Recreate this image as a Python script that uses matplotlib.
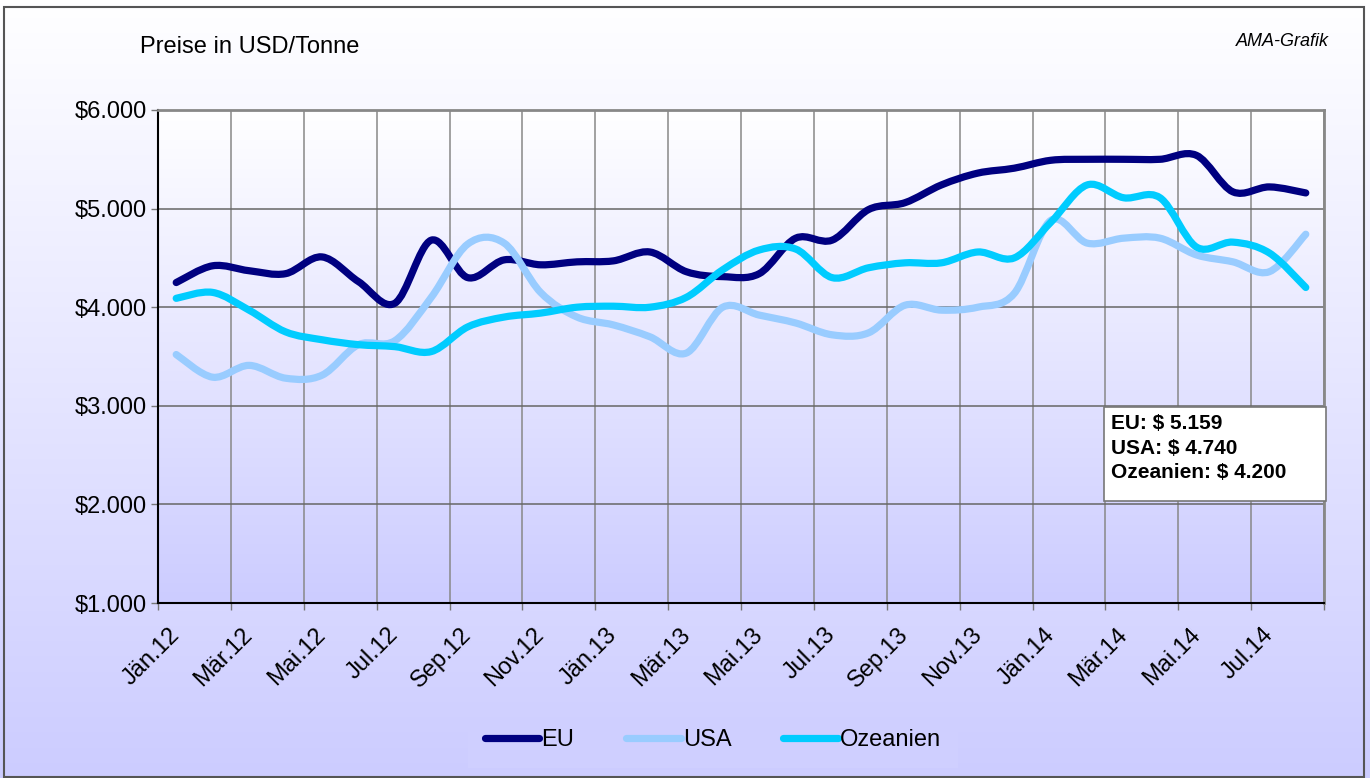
import matplotlib
matplotlib.use("Agg")
import matplotlib.pyplot as plt
import numpy as np
from matplotlib.path import Path
from matplotlib.patches import PathPatch, Rectangle
from matplotlib.lines import Line2D
from matplotlib.ticker import FuncFormatter
from matplotlib.transforms import ScaledTranslation

plt.rcParams['font.family'] = ['Liberation Sans', 'DejaVu Sans']

# monthly prices, Jän.12 .. Aug.14 (USD/Tonne)
eu = [4250, 4420, 4370, 4340, 4510, 4260, 4040, 4680, 4300, 4480,
      4430, 4460, 4470, 4560, 4360, 4310, 4340, 4700, 4680, 4990,
      5060, 5240, 5360, 5410, 5490, 5500, 5500, 5500, 5540, 5170,
      5220, 5159]
usa = [3520, 3290, 3410, 3280, 3310, 3620, 3660, 4100, 4640, 4650,
       4150, 3900, 3820, 3700, 3535, 4000, 3920, 3840, 3720, 3740,
       4020, 3970, 4000, 4140, 4880, 4650, 4700, 4700, 4530, 4460,
       4360, 4740]
ozeanien = [4090, 4150, 3970, 3750, 3670, 3620, 3600, 3550, 3800, 3900,
            3940, 4000, 4010, 4000, 4100, 4380, 4580, 4590, 4300, 4400,
            4450, 4450, 4560, 4500, 4860, 5240, 5110, 5110, 4610, 4660,
            4550, 4200]
tick_labels = ['Jän.12', 'Mär.12', 'Mai.12', 'Jul.12', 'Sep.12', 'Nov.12',
               'Jän.13', 'Mär.13', 'Mai.13', 'Jul.13', 'Sep.13', 'Nov.13',
               'Jän.14', 'Mär.14', 'Mai.14', 'Jul.14']
series = [('EU', eu, '#000080'), ('USA', usa, '#99CCFF'),
          ('Ozeanien', ozeanien, '#00CCFF')]


def smooth_path(y):
    # Excel-style smoothed line: cubic bezier through every data point
    p = np.column_stack([np.arange(len(y), dtype=float), np.asarray(y, float)])
    verts = [p[0]]
    codes = [Path.MOVETO]
    n = len(p)
    for i in range(n - 1):
        p0 = p[max(i - 1, 0)]
        p3 = p[min(i + 2, n - 1)]
        c1 = p[i] + (p[i + 1] - p0) / 6
        c2 = p[i + 1] - (p3 - p[i]) / 6
        verts += [c1, c2, p[i + 1]]
        codes += [Path.CURVE4] * 3
    return Path(verts, codes)


fig = plt.figure(figsize=(13.7, 7.78), dpi=100)

# background gradient of the whole figure
bg = fig.add_axes([0, 0, 1, 1], zorder=-10)
grad = np.linspace(0, 1, 256).reshape(-1, 1)
cmap = matplotlib.colors.LinearSegmentedColormap.from_list('bg', ['#FFFFFF', '#CCCCFF'])
bg.imshow(grad, aspect='auto', cmap=cmap, extent=[0, 1, 0, 1])
bg.set_axis_off()
fig.add_artist(Rectangle((4 / 1370, 0.001), 1360 / 1370, 1 - 7 / 778 - 0.001,
                         transform=fig.transFigure, fill=False,
                         edgecolor='#555555', linewidth=1.5))

ax = fig.add_axes([158 / 1370, 1 - 603 / 778, 1166 / 1370, 493 / 778])
ax.imshow(grad, aspect='auto', cmap=cmap, extent=[-0.5, 31.5, 1000, 6000],
          zorder=0)
ax.set_xlim(-0.5, 31.5)
ax.set_ylim(1000, 6000)

for name, vals, col in series:
    ax.add_patch(PathPatch(smooth_path(vals), fill=False, edgecolor=col,
                           linewidth=5.2, capstyle='round', joinstyle='round',
                           zorder=3))

# axes and grid
ax.set_yticks(np.arange(1000, 6001, 1000))
ax.yaxis.set_major_formatter(FuncFormatter(
    lambda v, pos: '$' + f'{int(v):,}'.replace(',', '.')))
ax.set_xticks(np.arange(0, 32, 2))
ax.set_xticklabels(tick_labels, rotation=45, ha='right', va='top')
ax.set_xticks(np.arange(-0.5, 32, 2), minor=True)
ax.tick_params(axis='x', which='major', length=0, pad=15, labelsize=17)
ax.tick_params(axis='x', which='minor', length=5, width=1, color='#777777')
ax.tick_params(axis='y', length=5, width=1, color='#777777', pad=3,
               labelsize=17)
shift = ScaledTranslation(8 / 100, 0, fig.dpi_scale_trans)
for lab in ax.get_xticklabels():
    lab.set_transform(lab.get_transform() + shift)
ax.grid(axis='x', which='minor', color='#888888', linewidth=1.1, zorder=1)
ax.grid(axis='y', which='major', color='#666666', linewidth=1.1, zorder=1)
ax.set_axisbelow(True)
for s in ['left', 'bottom']:
    ax.spines[s].set_color('black')
    ax.spines[s].set_linewidth(1.5)
for s in ['top', 'right']:
    ax.spines[s].set_color('#888888')
    ax.spines[s].set_linewidth(2)

fig.text(140 / 1370, 1 - 47 / 778, 'Preise in USD/Tonne', fontsize=17,
         ha='left', va='center')
fig.text(1329 / 1370, 1 - 42 / 778, 'AMA-Grafik', fontsize=13,
         style='italic', ha='right', va='center')

# value box
fig.add_artist(Rectangle((1104 / 1370, 1 - 501 / 778), 222 / 1370, 94 / 778,
                         transform=fig.transFigure, facecolor='white',
                         edgecolor='#777777', linewidth=1.2, zorder=5))
fig.text(1111 / 1370, 1 - 414 / 778,
         'EU: $ 5.159\nUSA: $ 4.740\nOzeanien: $ 4.200',
         fontsize=15, fontweight='bold', ha='left', va='top',
         linespacing=1.38, zorder=6)

handles = [Line2D([], [], color=c, linewidth=5.2, solid_capstyle='round')
           for _, _, c in series]
leg = fig.legend(handles, [n for n, _, _ in series], loc='center',
                 bbox_to_anchor=(713 / 1370, 1 - 740 / 778), ncol=3,
                 fontsize=17, frameon=True, handlelength=2.3,
                 handletextpad=0.1, columnspacing=2.2)
leg.get_frame().set_facecolor('#D0D0FF')
leg.get_frame().set_edgecolor('none')
leg.get_frame().set_boxstyle('square', pad=0.3)

fig.savefig('out.png', dpi=100)
